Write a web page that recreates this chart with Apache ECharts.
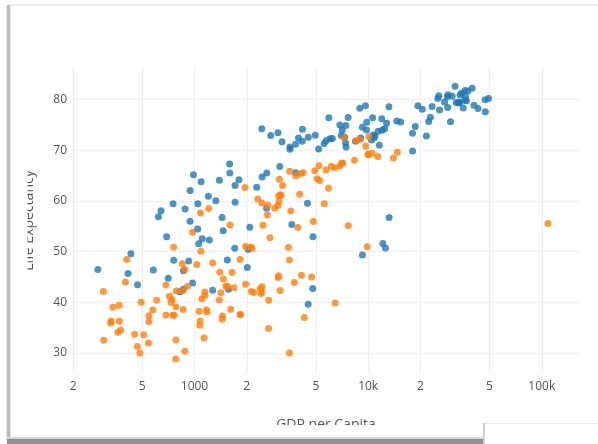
<!DOCTYPE html>
<html><head><meta charset="utf-8">
<script src="https://cdn.jsdelivr.net/npm/echarts@6/dist/echarts.min.js"></script>
<style>html,body{margin:0;padding:0;background:#fff;}#c{width:598px;height:444px;}</style>
</head><body><div id="c"></div>
<script>
// GDP per capita / life expectancy, 2007 (blue) and 1952 (orange)
const gdp2007 = [
 974.6, 5937.0, 6223.4, 4797.2, 12779.4, 34435.4, 36126.5, 29796.0, 1391.3, 33692.6,
 1441.3, 3822.1, 7446.3, 12569.9, 9065.8, 10680.8, 1217.0, 430.1, 1713.8, 2042.1,
 36319.2, 706.0, 1704.1, 13171.6, 4959.1, 7006.6, 986.1, 277.6, 3632.6, 9645.1,
 1544.8, 14619.2, 8948.1, 22833.3, 35278.4, 2082.5, 6025.4, 6873.3, 5581.2, 5728.4,
 12154.1, 641.4, 690.8, 33207.1, 30470.0, 13206.5, 752.7, 32170.4, 1327.6, 27538.4,
 5186.1, 942.7, 579.2, 1201.6, 3548.3, 39725.0, 18008.9, 36180.8, 2452.2, 3540.7,
 11605.7, 4471.1, 40676.0, 25523.3, 28569.7, 7320.9, 31656.1, 4519.5, 1463.2, 1593.1,
 23348.1, 47307.0, 10461.1, 1569.3, 414.5, 12057.5, 1044.8, 759.3, 12451.7, 1042.6,
 1803.2, 10957.0, 11977.6, 3095.8, 9253.9, 3820.2, 823.7, 944.0, 4811.1, 1091.4,
 36797.9, 25185.0, 2749.3, 619.7, 2014.0, 49357.2, 22316.2, 2605.9, 9809.2, 4172.8,
 7408.9, 3190.5, 15389.9, 20509.6, 19328.7, 7670.1, 10808.5, 863.1, 1598.4, 21654.8,
 1712.5, 9786.5, 862.5, 47143.2, 18678.3, 25768.3, 926.1, 9269.7, 28821.1, 3970.1,
 2602.4, 4513.5, 33859.7, 37506.4, 4184.5, 28718.3, 1107.5, 7458.4, 883.0, 18008.5,
 7092.9, 8458.3, 1056.4, 33203.3, 42951.7, 10611.5, 11415.8, 2441.6, 3025.3, 2280.8,
 1271.2, 469.7
];
const life2007 = [
 43.828, 76.423, 72.301, 42.731, 75.32, 81.235, 79.829, 75.635, 64.062, 79.441,
 56.728, 65.554, 74.852, 50.728, 72.39, 73.005, 52.295, 49.58, 59.723, 50.43,
 80.653, 44.741, 50.651, 78.553, 72.961, 72.889, 65.152, 46.462, 55.322, 78.782,
 48.328, 75.748, 78.273, 76.486, 78.332, 54.791, 72.235, 74.994, 71.338, 71.878,
 51.579, 58.04, 52.947, 79.313, 80.657, 56.735, 59.448, 79.406, 60.022, 79.483,
 70.259, 56.007, 46.388, 60.916, 70.198, 82.208, 73.338, 81.757, 64.698, 70.65,
 70.964, 59.545, 78.885, 80.745, 80.546, 72.567, 82.603, 72.535, 54.11, 67.297,
 78.623, 77.588, 71.993, 42.592, 45.678, 73.952, 59.443, 48.303, 74.241, 54.467,
 64.164, 72.801, 76.195, 66.803, 74.543, 71.164, 42.082, 62.069, 52.906, 63.785,
 79.762, 80.204, 72.899, 56.867, 46.859, 80.196, 75.64, 65.483, 75.537, 71.752,
 71.421, 71.688, 75.563, 78.098, 78.746, 76.442, 72.476, 46.242, 65.528, 72.777,
 63.062, 74.002, 42.568, 79.972, 74.663, 77.926, 48.159, 49.339, 80.941, 72.396,
 58.556, 39.613, 80.884, 81.701, 74.143, 78.4, 52.517, 70.616, 58.42, 69.819,
 73.923, 71.777, 51.542, 79.425, 78.242, 76.384, 73.747, 74.249, 73.422, 62.698,
 42.384, 43.487
];
const gdp1952 = [
 779.4, 1601.1, 2449.0, 3520.6, 5911.3, 10039.6, 6137.1, 9867.1, 684.2, 8343.1,
 1062.8, 2677.3, 973.5, 851.2, 2108.9, 2444.3, 543.3, 339.3, 368.5, 1172.7,
 11367.2, 1071.3, 1178.7, 3940.0, 400.4, 2144.1, 1103.0, 780.5, 2125.6, 2627.0,
 1388.6, 3119.2, 5586.5, 6876.1, 9692.4, 2669.5, 1397.7, 3522.1, 1418.8, 3048.3,
 375.6, 328.9, 362.1, 6424.5, 7029.8, 4293.5, 485.2, 7144.1, 911.3, 3530.7,
 2428.2, 510.2, 299.9, 1840.4, 2194.9, 3054.4, 5263.7, 7267.7, 546.6, 749.7,
 3035.3, 4129.8, 5210.3, 4086.5, 4931.4, 2898.5, 3217.0, 1546.9, 853.5, 1088.3,
 1030.6, 108382.4, 4834.8, 298.8, 575.6, 2387.5, 1443.0, 369.2, 1831.1, 452.3,
 743.1, 1968.0, 3478.1, 786.6, 2647.6, 1688.2, 468.5, 331.0, 2423.8, 545.9,
 8941.6, 10556.6, 3112.4, 761.9, 1077.3, 10095.4, 1828.2, 684.6, 2480.4, 1952.3,
 3758.5, 1272.9, 4029.3, 3068.3, 3082.0, 2718.9, 3144.6, 493.3, 879.6, 6459.6,
 1450.4, 3581.5, 879.8, 2315.1, 5074.7, 4215.0, 1135.7, 4725.3, 3834.0, 1083.5,
 1616.0, 1148.4, 8527.8, 14734.2, 1643.5, 1206.9, 716.7, 757.8, 859.8, 3023.3,
 1468.5, 1969.1, 734.8, 9979.5, 13990.5, 5716.8, 7689.8, 605.1, 1515.6, 781.7,
 1147.4, 406.9
];
const life1952 = [
 28.801, 55.23, 43.077, 30.015, 62.485, 69.12, 66.8, 50.939, 37.484, 68.0,
 38.223, 40.414, 53.82, 47.622, 50.917, 59.6, 31.975, 39.031, 39.417, 38.523,
 68.75, 35.463, 38.092, 54.745, 44.0, 50.643, 40.715, 39.143, 42.111, 57.206,
 40.477, 61.21, 59.421, 66.87, 70.78, 34.812, 45.928, 48.357, 41.893, 45.262,
 34.482, 35.928, 34.078, 66.55, 67.41, 37.003, 30.0, 67.5, 43.149, 65.86,
 42.023, 33.609, 32.5, 37.579, 41.912, 60.96, 64.03, 72.49, 37.373, 37.468,
 44.869, 45.32, 66.91, 65.39, 65.94, 58.53, 63.03, 43.158, 42.27, 50.056,
 47.453, 55.565, 55.928, 42.138, 38.48, 42.723, 36.681, 36.256, 48.463, 33.685,
 40.543, 50.986, 50.789, 42.244, 59.164, 42.873, 31.286, 36.319, 41.725, 36.157,
 72.13, 69.39, 42.314, 37.444, 36.324, 72.67, 37.578, 43.436, 55.191, 62.649,
 43.902, 47.752, 61.31, 59.82, 64.28, 52.724, 61.05, 40.0, 46.471, 39.875,
 37.278, 57.996, 30.331, 60.396, 64.36, 65.57, 32.978, 45.009, 64.94, 57.593,
 38.635, 41.407, 71.86, 69.62, 45.883, 58.5, 41.215, 50.848, 38.596, 59.1,
 44.6, 43.585, 39.978, 69.18, 68.44, 66.071, 55.088, 40.412, 43.16, 32.548,
 42.038, 48.451
];
const xTickValues = [200, 500, 1000, 2000, 5000, 10000, 20000, 50000, 100000];
const xTickLabels = ['2', '5', '1000', '2', '5', '10k', '2', '5', '100k'];
const yTickValues = [30, 40, 50, 60, 70, 80];
const seriesNames = ['2007', '1952'];

const xMin = 197, xMax = 166000, yMin = 25.86, yMax = 86.41;
const pts = (xs, ys) => xs.map((x, i) => [x, ys[i]]);
const xLogTicks = xTickValues.map(v => Math.log10(v));
const font = '"Open Sans", "Noto Sans", sans-serif';

const chart = echarts.init(document.getElementById('c'), null, {renderer: 'canvas'});
chart.setOption({
  animation: false,
  backgroundColor: '#ffffff',
  grid: {left: 72, right: 18, top: 67, bottom: 70, containLabel: false},
  xAxis: [
    {type: 'log', logBase: 10, min: xMin, max: xMax, show: false},
    {
      type: 'value', min: Math.log10(xMin), max: Math.log10(xMax), position: 'bottom',
      axisLine: {show: false},
      axisTick: {show: false, customValues: xLogTicks},
      axisLabel: {
        customValues: xLogTicks, margin: 7, color: '#555', fontSize: 12, fontFamily: font,
        formatter: v => {
          let best = 0;
          xLogTicks.forEach((t, i) => { if (Math.abs(t - v) < Math.abs(xLogTicks[best] - v)) best = i; });
          return xTickLabels[best];
        }
      },
      splitLine: {show: true, lineStyle: {color: '#eeeeee', width: 1}},
      name: 'GDP per Capita', nameLocation: 'middle', nameGap: 44,
      nameTextStyle: {color: '#555', fontSize: 14, fontFamily: font}
    }
  ],
  yAxis: {
    type: 'value', min: yMin, max: yMax,
    axisLine: {show: false},
    axisTick: {show: false, customValues: yTickValues},
    axisLabel: {customValues: yTickValues, margin: 5, color: '#555', fontSize: 12, fontFamily: font},
    splitLine: {show: true, lineStyle: {color: '#eeeeee', width: 1}},
    name: 'Life Expectancy', nameLocation: 'middle', nameGap: 36, nameRotate: 90,
    nameTextStyle: {color: '#555', fontSize: 14, fontFamily: font}
  },
  series: [
    {name: seriesNames[0], type: 'scatter', xAxisIndex: 0, symbolSize: 7,
     itemStyle: {color: '#1f77b4'}, data: pts(gdp2007, life2007)},
    {name: seriesNames[1], type: 'scatter', xAxisIndex: 0, symbolSize: 7,
     itemStyle: {color: '#ff7f0e'}, data: pts(gdp1952, life1952)}
  ],
  graphic: [
    // clipping of the axis titles, as in the screenshot
    {type: 'rect', z: 100, shape: {x: 10, y: 140, width: 17.5, height: 170}, style: {fill: '#ffffff'}},
    {type: 'rect', z: 100, shape: {x: 200, y: 425, width: 260, height: 12}, style: {fill: '#ffffff'}},
    // card frame
    {type: 'rect', z: 101, shape: {x: 10, y: 4, width: 588, height: 2}, style: {fill: '#ededed'}},
    {type: 'rect', z: 101, shape: {x: 6, y: 5, width: 1, height: 436}, style: {fill: '#e2e2e2'}},
    {type: 'rect', z: 101, shape: {x: 7, y: 5, width: 3, height: 436}, style: {fill: '#bdbdbd'}},
    {type: 'rect', z: 101, shape: {x: 10, y: 5, width: 1, height: 432}, style: {fill: '#e6e6e6'}},
    {type: 'rect', z: 101, shape: {x: 7, y: 437, width: 478, height: 2}, style: {fill: '#d6d6d6'}},
    {type: 'rect', z: 101, shape: {x: 7, y: 439, width: 478, height: 5}, style: {fill: '#8f8f8f'}},
    // neighbouring card at bottom right
    {type: 'rect', z: 102, shape: {x: 485, y: 423, width: 113, height: 21}, style: {fill: '#ffffff'}},
    {type: 'rect', z: 102, shape: {x: 483, y: 423, width: 2, height: 21}, style: {fill: '#cfcfcf'}},
    {type: 'rect', z: 102, shape: {x: 485, y: 423, width: 113, height: 1}, style: {fill: '#ececec'}}
  ]
});
</script>
</body></html>
